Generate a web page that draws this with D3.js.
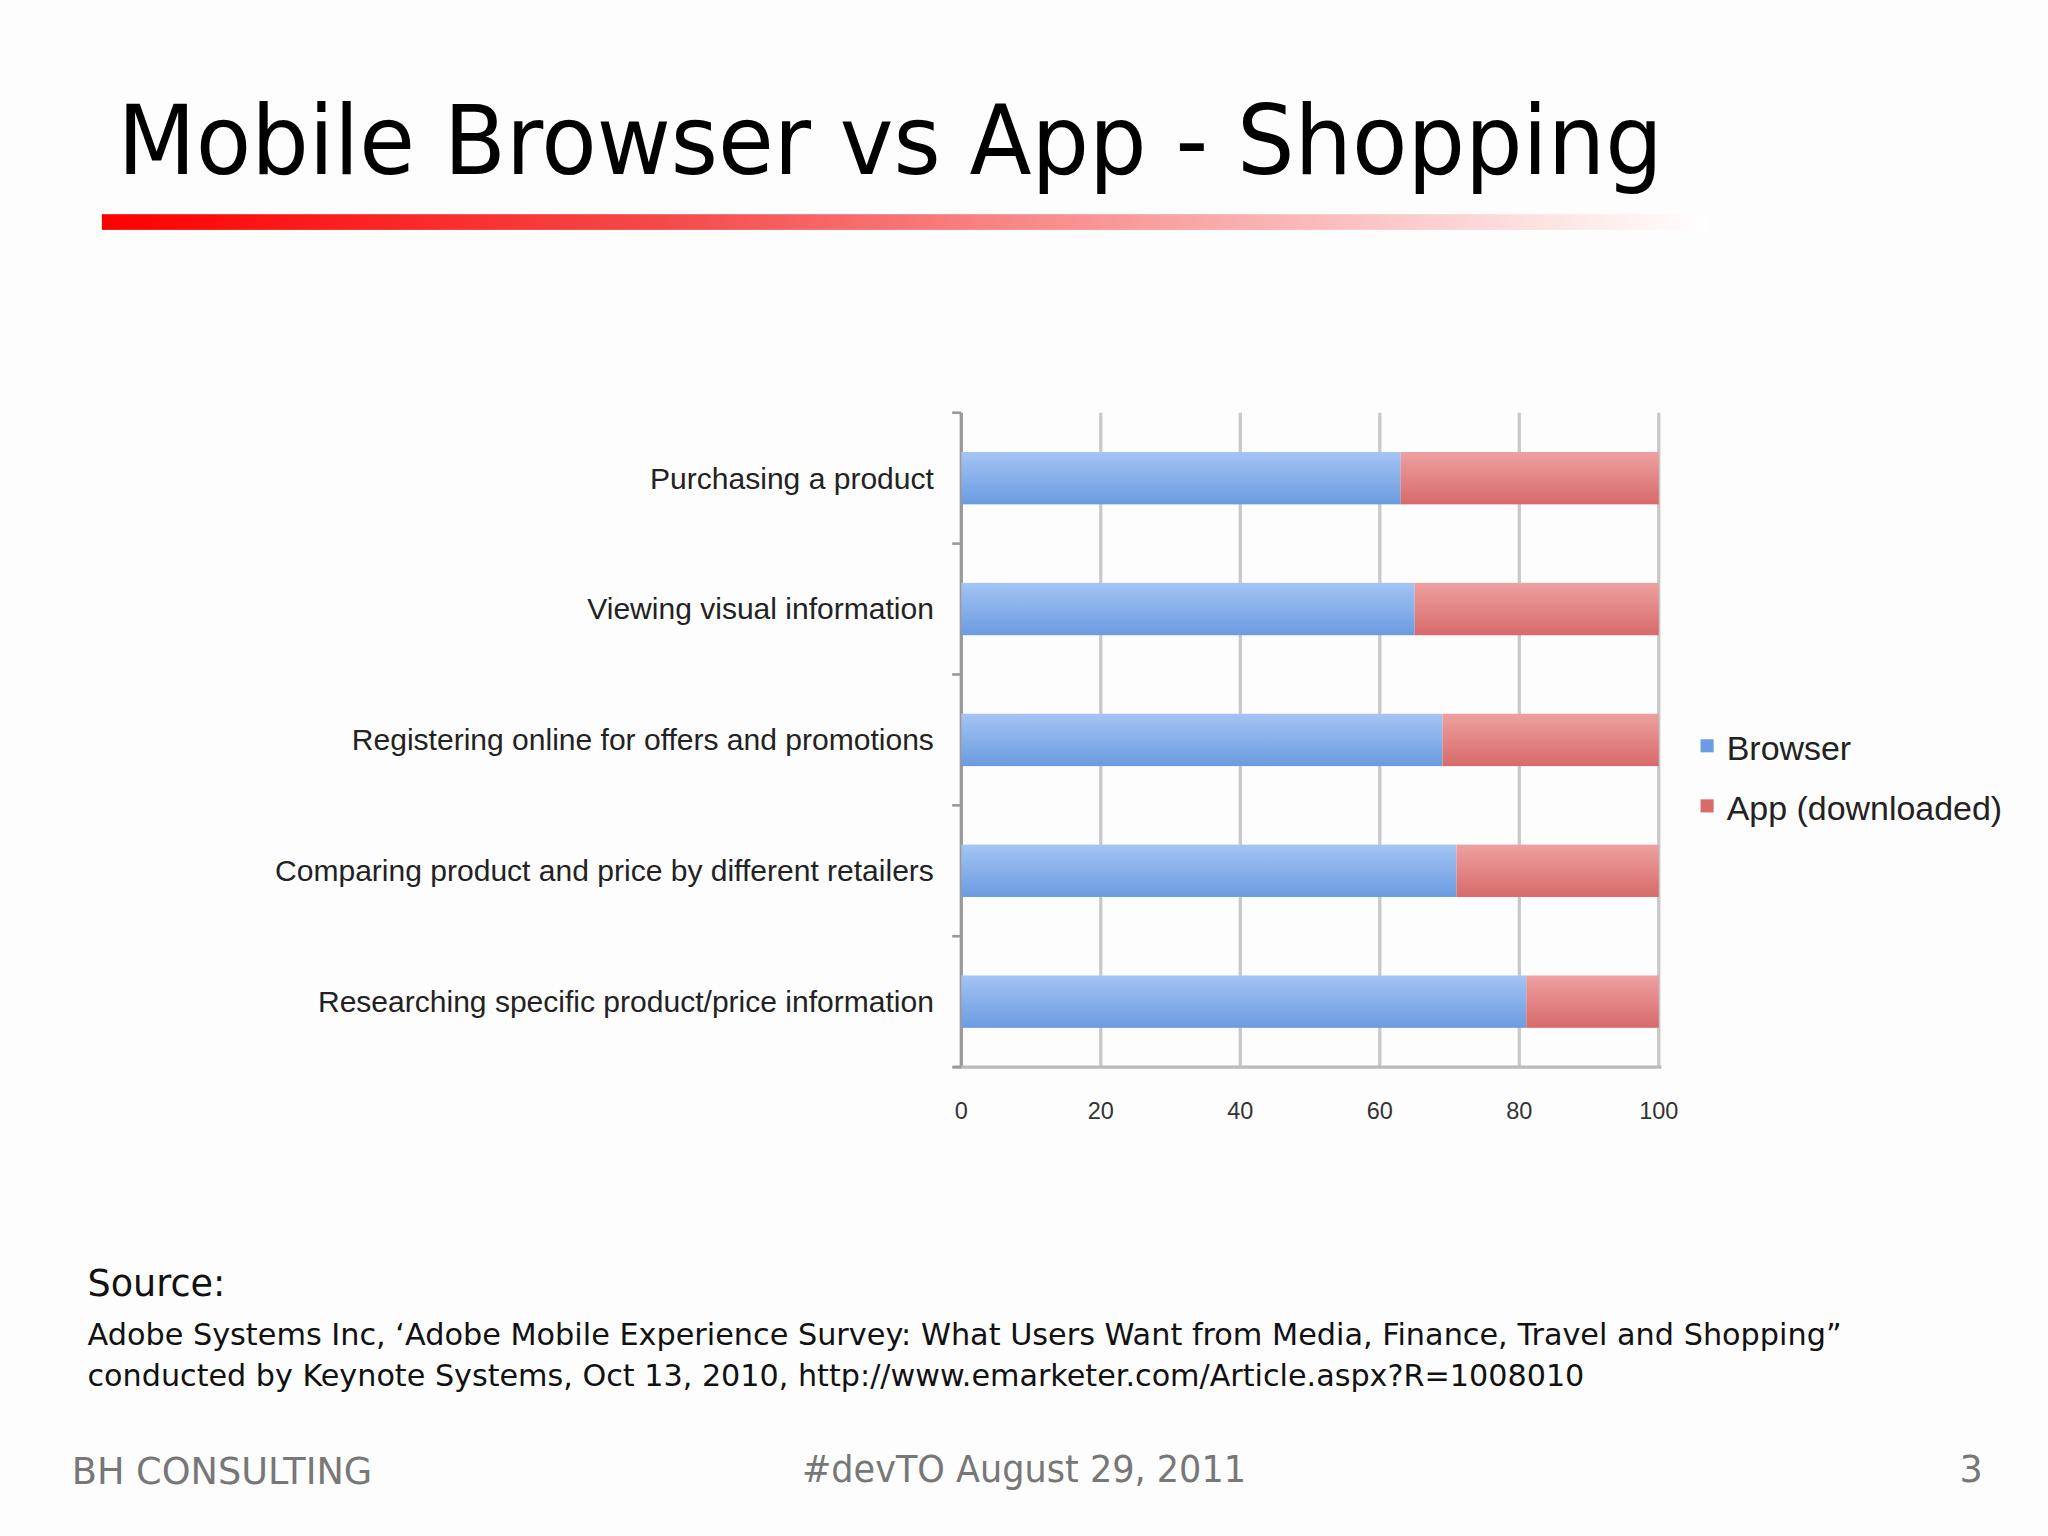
<!DOCTYPE html>
<html><head><meta charset="utf-8">
<script src="https://cdn.jsdelivr.net/npm/d3@7"></script>
<style>body{margin:0;background:#fff}</style></head>
<body><script>
const categories=["Purchasing a product","Viewing visual information","Registering online for offers and promotions","Comparing product and price by different retailers","Researching specific product/price information"];
const browser=[63,65,69,71,81];
const app=[37,35,31,29,19];
const seriesNames=["Browser","App (downloaded)"];
const xTicks=[0,20,40,60,80,100];

const svg=d3.select("body").append("svg").attr("width",2048).attr("height",1536).attr("viewBox","0 0 1568 1176");
svg.append("rect").attr("width",1568).attr("height",1176).attr("fill","#fdfdfd");
const defs=svg.append("defs");
const rg=defs.append("linearGradient").attr("id","rl");
rg.append("stop").attr("offset","0").attr("stop-color","#f00");
rg.append("stop").attr("offset","0.35").attr("stop-color","#f54a4a");
rg.append("stop").attr("offset","1").attr("stop-color","#fff");
function vg(id,a,b){const g=defs.append("linearGradient").attr("id",id).attr("x1",0).attr("x2",0).attr("y1",0).attr("y2",1);
g.append("stop").attr("offset",0).attr("stop-color",a);g.append("stop").attr("offset",1).attr("stop-color",b);}
vg("gb","#a4c4f4","#6b9be0");vg("gr","#eea0a0","#d86a6a");

svg.append("text").attr("x",90).attr("y",133).attr("font-family","DejaVu Sans").attr("font-size",74)
 .attr("textLength",1183).attr("lengthAdjust","spacingAndGlyphs").text("Mobile Browser vs App - Shopping");
svg.append("rect").attr("x",78).attr("y",164).attr("width",1230).attr("height",12).attr("fill","url(#rl)");

const x=d3.scaleLinear().domain([0,100]).range([736,1270]);
const y=d3.scaleBand().domain(categories).range([316,817]).paddingInner(0.6).paddingOuter(0.3);
const g=svg.append("g");
g.selectAll(".grid").data(xTicks).join("line").attr("x1",d=>x(d)).attr("x2",d=>x(d)).attr("y1",316).attr("y2",817)
 .attr("stroke",d=>d===0?"#999":"#c8c8c8").attr("stroke-width",2.5);
g.append("line").attr("x1",730).attr("x2",1272).attr("y1",817).attr("y2",817).attr("stroke","#bbb").attr("stroke-width",2.5);
const step=(817-316)/5;
g.selectAll(".yt").data(d3.range(6)).join("line").attr("x1",729).attr("x2",736).attr("y1",d=>316+d*step).attr("y2",d=>316+d*step).attr("stroke","#999").attr("stroke-width",2);
g.selectAll(".b").data(categories).join("rect").attr("x",x(0)).attr("y",d=>y(d)).attr("height",y.bandwidth())
 .attr("width",(d,i)=>x(browser[i])-x(0)).attr("fill","url(#gb)");
g.selectAll(".a").data(categories).join("rect").attr("x",(d,i)=>x(browser[i])).attr("y",d=>y(d)).attr("height",y.bandwidth())
 .attr("width",(d,i)=>x(browser[i]+app[i])-x(browser[i])).attr("fill","url(#gr)");
g.selectAll(".cl").data(categories).join("text").attr("x",715).attr("y",d=>y(d)+y.bandwidth()/2+8).attr("text-anchor","end")
 .attr("font-family","Liberation Sans").attr("font-size",23).attr("fill","#222").text(d=>d);
g.selectAll(".xl").data(xTicks).join("text").attr("x",d=>x(d)).attr("y",857).attr("text-anchor","middle")
 .attr("font-family","Liberation Sans").attr("font-size",18).attr("fill","#333").text(d=>d);
const lc=["#6b9be0","#d86a6a"];
seriesNames.forEach((s,i)=>{
 svg.append("rect").attr("x",1302).attr("y",566+i*46).attr("width",10).attr("height",10).attr("fill",lc[i]);
 svg.append("text").attr("x",1322).attr("y",582+i*46).attr("font-family","Liberation Sans").attr("font-size",26).attr("fill","#222").text(s);
});
const t=(x0,y0,s,sz,c,a)=>svg.append("text").attr("x",x0).attr("y",y0).attr("font-family","DejaVu Sans").attr("font-size",sz).attr("fill",c).attr("text-anchor",a||"start").text(s);
t(67,992,"Source:",28,"#111");
t(67,1030,"Adobe Systems Inc, ‘Adobe Mobile Experience Survey: What Users Want from Media, Finance, Travel and Shopping”",22.5,"#111").attr("textLength",1343).attr("lengthAdjust","spacingAndGlyphs");
t(67,1061,"conducted by Keynote Systems, Oct 13, 2010, http://www.emarketer.com/Article.aspx?R=1008010",22.5,"#111").attr("textLength",1146).attr("lengthAdjust","spacingAndGlyphs");
t(55,1136,"BH CONSULTING",28,"#777").attr("textLength",230).attr("lengthAdjust","spacingAndGlyphs");
t(784,1135,"#devTO August 29, 2011",28,"#777","middle").attr("textLength",340).attr("lengthAdjust","spacingAndGlyphs");
t(1518,1135,"3",28,"#777","end");
</script></body></html>
